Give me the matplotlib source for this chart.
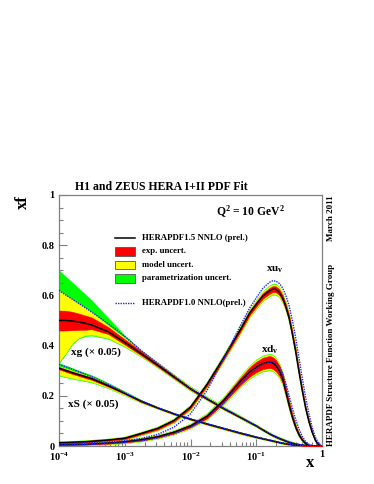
import numpy as np
import matplotlib
matplotlib.use("Agg")
import matplotlib.pyplot as plt
from matplotlib.patches import Rectangle
from matplotlib.lines import Line2D
from matplotlib.ticker import FixedLocator, NullFormatter, MultipleLocator

plt.rcParams['font.family'] = ['Liberation Serif', 'DejaVu Serif']
plt.rcParams['font.weight'] = 'bold'
plt.rcParams['mathtext.fontset'] = 'custom'
plt.rcParams['mathtext.rm'] = 'Liberation Serif:bold'
plt.rcParams['mathtext.bf'] = 'Liberation Serif:bold'
plt.rcParams['mathtext.it'] = 'Liberation Serif:bold'

# ---------------- data ----------------
log_x = [-4, -3.9, -3.8, -3.7, -3.6, -3.5, -3.25, -3.0, -2.75, -2.5, -2.25, -2.0,
         -1.75, -1.5, -1.25, -1.1, -1.0, -0.9, -0.8, -0.75, -0.7, -0.65, -0.6, -0.55,
         -0.5, -0.45, -0.4, -0.35, -0.3, -0.25, -0.2, -0.15, -0.1, -0.05, 0.0]

# HERAPDF1.5 NNLO central values
xuv = [0.013, 0.014, 0.015, 0.016, 0.017, 0.019, 0.024, 0.031, 0.050, 0.070, 0.102, 0.155,
       0.245, 0.350, 0.460, 0.530, 0.565, 0.598, 0.618, 0.625, 0.624, 0.613, 0.590, 0.555,
       0.510, 0.445, 0.375, 0.295, 0.220, 0.152, 0.098, 0.055, 0.022, 0.004, 0.0]
xdv = [0.005, 0.0055, 0.006, 0.0065, 0.007, 0.0085, 0.012, 0.017, 0.025, 0.037, 0.055, 0.080,
       0.118, 0.180, 0.255, 0.295, 0.315, 0.329, 0.335, 0.331, 0.320, 0.300, 0.270, 0.217,
       0.163, 0.115, 0.075, 0.045, 0.024, 0.010, 0.003, 0.001, 0.0, 0.0, 0.0]
xg = [0.500, 0.500, 0.498, 0.494, 0.489, 0.482, 0.455, 0.413, 0.368, 0.322, 0.275, 0.228,
      0.188, 0.150, 0.115, 0.094, 0.080, 0.064, 0.049, 0.042, 0.036, 0.030, 0.025, 0.020,
      0.015, 0.011, 0.008, 0.005, 0.003, 0.002, 0.001, 0.0, 0.0, 0.0, 0.0]
xS = [0.310, 0.301, 0.292, 0.284, 0.276, 0.268, 0.240, 0.210, 0.178, 0.152, 0.128, 0.107,
      0.088, 0.070, 0.052, 0.042, 0.035, 0.029, 0.023, 0.020, 0.017, 0.014, 0.011, 0.009,
      0.007, 0.005, 0.004, 0.003, 0.002, 0.001, 0.001, 0.0, 0.0, 0.0, 0.0]

# valence uncertainties: symmetric half-widths (exp / exp+model / total)
xuv_exp = [0.003, 0.003, 0.003, 0.003, 0.003, 0.003, 0.003, 0.004, 0.004, 0.005, 0.005, 0.006,
           0.007, 0.008, 0.009, 0.0095, 0.010, 0.011, 0.012, 0.012, 0.012, 0.012, 0.012, 0.0115,
           0.011, 0.0105, 0.010, 0.009, 0.008, 0.007, 0.006, 0.0045, 0.003, 0.001, 0.0]
xuv_mod = [0.005, 0.005, 0.005, 0.005, 0.005, 0.005, 0.005, 0.006, 0.006, 0.007, 0.008, 0.009,
           0.010, 0.012, 0.014, 0.015, 0.016, 0.018, 0.019, 0.019, 0.019, 0.0185, 0.018, 0.017,
           0.016, 0.0145, 0.013, 0.0115, 0.010, 0.0085, 0.007, 0.0055, 0.004, 0.002, 0.0]
xuv_par = [0.006, 0.006, 0.006, 0.006, 0.006, 0.006, 0.006, 0.007, 0.007, 0.008, 0.009, 0.010,
           0.012, 0.014, 0.016, 0.017, 0.018, 0.020, 0.022, 0.022, 0.022, 0.021, 0.020, 0.019,
           0.018, 0.016, 0.015, 0.013, 0.011, 0.0095, 0.008, 0.006, 0.004, 0.002, 0.0]
xdv_exp = [0.002, 0.002, 0.002, 0.002, 0.002, 0.002, 0.003, 0.003, 0.004, 0.004, 0.005, 0.006,
           0.008, 0.010, 0.015, 0.019, 0.021, 0.023, 0.024, 0.024, 0.023, 0.021, 0.019, 0.017,
           0.014, 0.011, 0.008, 0.006, 0.004, 0.003, 0.002, 0.001, 0.0, 0.0, 0.0]
xdv_mod = [0.004, 0.004, 0.004, 0.004, 0.004, 0.004, 0.005, 0.005, 0.006, 0.007, 0.008, 0.009,
           0.011, 0.014, 0.020, 0.025, 0.027, 0.029, 0.030, 0.030, 0.029, 0.027, 0.025, 0.022,
           0.018, 0.014, 0.011, 0.008, 0.006, 0.004, 0.003, 0.001, 0.001, 0.0, 0.0]
xdv_par = [0.005, 0.005, 0.005, 0.005, 0.005, 0.005, 0.006, 0.006, 0.007, 0.008, 0.009, 0.010,
           0.013, 0.016, 0.022, 0.027, 0.030, 0.032, 0.033, 0.033, 0.032, 0.030, 0.027, 0.024,
           0.020, 0.016, 0.012, 0.009, 0.007, 0.005, 0.003, 0.002, 0.001, 0.0, 0.0]

# gluon uncertainties: offsets below (dn) / above (up) the central value
xg_exp_dn = [0.040, 0.040, 0.037, 0.032, 0.026, 0.017, 0.009, 0.009, 0.007, 0.006, 0.005, 0.004,
             0.003, 0.003, 0.002, 0.002, 0.002, 0.002, 0.002, 0.002, 0.002, 0.002, 0.002, 0.002,
             0.002, 0.002, 0.002, 0.001, 0.001, 0.001, 0.001, 0.0, 0.0, 0.0, 0.0]
xg_exp_up = [0.040, 0.039, 0.037, 0.034, 0.031, 0.030, 0.019, 0.012, 0.010, 0.007, 0.005, 0.004,
             0.003, 0.003, 0.002, 0.002, 0.002, 0.002, 0.002, 0.002, 0.002, 0.002, 0.002, 0.002,
             0.002, 0.002, 0.002, 0.001, 0.001, 0.001, 0.001, 0.0, 0.0, 0.0, 0.0]
xg_mod_dn = [0.165, 0.130, 0.088, 0.062, 0.047, 0.038, 0.025, 0.015, 0.010, 0.008, 0.007, 0.006,
             0.005, 0.004, 0.004, 0.004, 0.003, 0.003, 0.003, 0.003, 0.003, 0.003, 0.003, 0.003,
             0.003, 0.003, 0.003, 0.002, 0.002, 0.002, 0.001, 0.0, 0.0, 0.0, 0.0]
xg_mod_up = [0.120, 0.102, 0.087, 0.074, 0.062, 0.051, 0.025, 0.017, 0.010, 0.009, 0.009, 0.008,
             0.007, 0.006, 0.005, 0.005, 0.005, 0.005, 0.005, 0.005, 0.005, 0.005, 0.005, 0.005,
             0.005, 0.005, 0.004, 0.004, 0.003, 0.002, 0.002, 0.001, 0.0, 0.0, 0.0]
xg_par_dn = [0.170, 0.135, 0.093, 0.066, 0.051, 0.042, 0.028, 0.018, 0.012, 0.010, 0.009, 0.008,
             0.006, 0.005, 0.005, 0.005, 0.004, 0.004, 0.004, 0.004, 0.004, 0.004, 0.004, 0.004,
             0.004, 0.004, 0.004, 0.003, 0.003, 0.002, 0.001, 0.0, 0.0, 0.0, 0.0]
xg_par_up = [0.200, 0.176, 0.154, 0.134, 0.115, 0.098, 0.055, 0.027, 0.014, 0.011, 0.010, 0.010,
             0.009, 0.008, 0.007, 0.006, 0.006, 0.006, 0.006, 0.006, 0.006, 0.006, 0.006, 0.006,
             0.006, 0.006, 0.005, 0.005, 0.004, 0.003, 0.002, 0.001, 0.0, 0.0, 0.0]

# sea uncertainties: offsets below (dn) / above (up) the central value
xS_exp_dn = [0.005, 0.005, 0.005, 0.005, 0.005, 0.005, 0.004, 0.003, 0.003, 0.002, 0.002, 0.002,
             0.002, 0.002, 0.002, 0.002, 0.001, 0.001, 0.001, 0.001, 0.001, 0.001, 0.001, 0.001,
             0.001, 0.001, 0.001, 0.001, 0.001, 0.0, 0.0, 0.0, 0.0, 0.0, 0.0]
xS_exp_up = [0.005, 0.005, 0.005, 0.005, 0.005, 0.005, 0.004, 0.003, 0.003, 0.002, 0.002, 0.002,
             0.002, 0.002, 0.002, 0.002, 0.001, 0.001, 0.001, 0.001, 0.001, 0.001, 0.001, 0.001,
             0.001, 0.001, 0.001, 0.001, 0.001, 0.0, 0.0, 0.0, 0.0, 0.0, 0.0]
xS_mod_dn = [0.027, 0.024, 0.021, 0.018, 0.015, 0.012, 0.008, 0.006, 0.005, 0.003, 0.003, 0.003,
             0.003, 0.003, 0.003, 0.003, 0.002, 0.002, 0.002, 0.002, 0.002, 0.002, 0.002, 0.002,
             0.002, 0.002, 0.002, 0.002, 0.001, 0.001, 0.001, 0.0, 0.0, 0.0, 0.0]
xS_mod_up = [0.008, 0.008, 0.008, 0.007, 0.007, 0.007, 0.006, 0.005, 0.004, 0.003, 0.003, 0.003,
             0.003, 0.003, 0.003, 0.003, 0.003, 0.003, 0.003, 0.003, 0.003, 0.003, 0.003, 0.003,
             0.003, 0.003, 0.002, 0.002, 0.002, 0.001, 0.001, 0.0, 0.0, 0.0, 0.0]
xS_par_dn = [0.030, 0.027, 0.024, 0.021, 0.018, 0.015, 0.010, 0.008, 0.006, 0.004, 0.004, 0.004,
             0.004, 0.004, 0.004, 0.004, 0.003, 0.003, 0.003, 0.003, 0.003, 0.003, 0.003, 0.003,
             0.003, 0.003, 0.003, 0.002, 0.002, 0.001, 0.001, 0.0, 0.0, 0.0, 0.0]
xS_par_up = [0.020, 0.020, 0.019, 0.017, 0.015, 0.014, 0.011, 0.008, 0.006, 0.004, 0.004, 0.004,
             0.004, 0.004, 0.004, 0.004, 0.004, 0.004, 0.004, 0.004, 0.004, 0.004, 0.004, 0.004,
             0.004, 0.003, 0.003, 0.003, 0.002, 0.002, 0.001, 0.0, 0.0, 0.0, 0.0]

# HERAPDF1.0 NNLO (prel.) central values
xuv_10 = [0.008, 0.009, 0.010, 0.011, 0.012, 0.013, 0.016, 0.021, 0.030, 0.046, 0.075, 0.128,
          0.220, 0.345, 0.475, 0.550, 0.590, 0.628, 0.652, 0.658, 0.657, 0.648, 0.630, 0.600,
          0.558, 0.500, 0.430, 0.350, 0.270, 0.195, 0.130, 0.075, 0.035, 0.010, 0.0]
xdv_10 = [0.004, 0.0045, 0.005, 0.0055, 0.006, 0.007, 0.010, 0.014, 0.021, 0.032, 0.049, 0.075,
          0.110, 0.170, 0.245, 0.285, 0.305, 0.325, 0.335, 0.336, 0.332, 0.318, 0.290, 0.250,
          0.200, 0.150, 0.105, 0.068, 0.038, 0.018, 0.007, 0.002, 0.0, 0.0, 0.0]
xg_10 = [0.620, 0.602, 0.585, 0.568, 0.551, 0.533, 0.487, 0.437, 0.380, 0.330, 0.280, 0.230,
         0.190, 0.151, 0.116, 0.095, 0.081, 0.065, 0.050, 0.043, 0.037, 0.031, 0.026, 0.021,
         0.016, 0.012, 0.009, 0.006, 0.004, 0.002, 0.001, 0.0, 0.0, 0.0, 0.0]
xS_10 = [0.325, 0.316, 0.306, 0.296, 0.286, 0.276, 0.246, 0.213, 0.180, 0.153, 0.129, 0.108,
         0.089, 0.071, 0.053, 0.043, 0.036, 0.030, 0.024, 0.021, 0.018, 0.015, 0.012, 0.010,
         0.008, 0.006, 0.004, 0.003, 0.002, 0.001, 0.001, 0.0, 0.0, 0.0, 0.0]

y_ticks = [0, 0.2, 0.4, 0.6, 0.8, 1]
y_tick_labels = ['0', '0.2', '0.4', '0.6', '0.8', '1']
x_ticks = [1e-4, 1e-3, 1e-2, 1e-1, 1]
x_tick_labels = [r'$10^{-4}$', r'$10^{-3}$', r'$10^{-2}$', r'$10^{-1}$', '1']

legend_labels = ['HERAPDF1.5 NNLO (prel.)', 'exp. uncert.', 'model uncert.',
                 'parametrization uncert.', 'HERAPDF1.0 NNLO(prel.)']

# ---------------- figure ----------------
W, H = 374, 484
fig = plt.figure(figsize=(W / 100, H / 100), dpi=100)
AX_L, AX_R, AX_T, AX_B = 59, 322, 195, 446
ax = fig.add_axes([AX_L / W, 1 - AX_B / H, (AX_R - AX_L) / W, (AX_B - AX_T) / H])

x = 10 ** np.array(log_x)

RED, YEL, GRN = '#ff0000', '#ffff00', '#00ff00'
BLUE = '#2020ff'


def band(lo, hi, color, z):
    ax.fill_between(x, np.maximum(lo, 0), hi, color=color, lw=0.3, edgecolor=color, zorder=z)


# valence bands (symmetric)
for c, e, m, p in [(xuv, xuv_exp, xuv_mod, xuv_par), (xdv, xdv_exp, xdv_mod, xdv_par)]:
    c, e, m, p = map(np.array, (c, e, m, p))
    band(c - p, c + p, GRN, 1)
    band(c - m, c + m, YEL, 2)
    band(c - e, c + e, RED, 3)

# gluon & sea bands (asymmetric)
for c, pd, pu, md, mu, ed, eu in [
        (xg, xg_par_dn, xg_par_up, xg_mod_dn, xg_mod_up, xg_exp_dn, xg_exp_up),
        (xS, xS_par_dn, xS_par_up, xS_mod_dn, xS_mod_up, xS_exp_dn, xS_exp_up)]:
    c, pd, pu, md, mu, ed, eu = map(np.array, (c, pd, pu, md, mu, ed, eu))
    band(c - pd, c + pu, GRN, 1)
    band(c - md, c + mu, YEL, 2)
    band(c - ed, c + eu, RED, 3)

for c in (xuv, xdv, xg, xS):
    ax.plot(x, c, color='black', lw=1.1, zorder=5)
for c in (xuv_10, xdv_10, xg_10, xS_10):
    ax.plot(x, c, color=BLUE, lw=1.0, ls=(0, (1, 0.8)), zorder=6)

ax.set_xscale('log')
ax.set_xlim(1e-4, 1)
ax.set_ylim(0, 1)

ax.set_xticks(x_ticks)
ax.set_xticklabels(x_tick_labels)
minors = [m * 10.0 ** d for d in range(-4, 0) for m in range(2, 10)]
ax.xaxis.set_minor_locator(FixedLocator(minors))
ax.xaxis.set_minor_formatter(NullFormatter())
ax.set_yticks(y_ticks)
ax.set_yticklabels(y_tick_labels)
ax.yaxis.set_minor_locator(MultipleLocator(0.05))

GRAY = '#808080'
ax.tick_params(axis='both', which='both', direction='in', colors=GRAY,
               labelcolor='black', labelsize=7.5, width=0.8)
ax.tick_params(axis='x', which='major', length=5, pad=3)
ax.tick_params(axis='x', which='minor', length=2.8)
ax.tick_params(axis='y', which='major', length=5.5, pad=3)
ax.tick_params(axis='y', which='minor', length=3)
ax.tick_params(top=False, right=False, which='both')
for lab in ax.get_xticklabels() + ax.get_yticklabels():
    lab.set_fontweight('bold')
for s in ax.spines.values():
    s.set_color(GRAY)
    s.set_linewidth(0.9)


def fpos(px, py):
    return px / W, 1 - py / H


def apos(px, py):
    return (px - AX_L) / (AX_R - AX_L), (AX_B - py) / (AX_B - AX_T)


# texts
fig.text(*fpos(161, 187), 'H1 and ZEUS HERA I+II PDF Fit', ha='center', va='center',
         fontsize=8.5, fontweight='bold')
fig.text(*fpos(23, 202), 'xf', ha='center', va='center', rotation=90, fontsize=12,
         fontweight='bold')
fig.text(*fpos(310, 463), 'x', ha='center', va='center', fontsize=12, fontweight='bold')
fig.text(*fpos(331, 195), 'March 2011', ha='center', va='top', rotation=90, fontsize=6.5,
         fontweight='bold')
fig.text(*fpos(331, 446), 'HERAPDF Structure Function Working Group', ha='center',
         va='bottom', rotation=90, fontsize=6.5, fontweight='bold')
fig.text(*fpos(250, 212), r'Q$^2$ = 10 GeV$^2$', ha='center', va='center', fontsize=8.4,
         fontweight='bold')

fig.text(*fpos(275, 270), r'xu$_{\rm v}$', ha='center', va='center', fontsize=8,
         fontweight='bold')
fig.text(*fpos(270, 350), r'xd$_{\rm v}$', ha='center', va='center', fontsize=8,
         fontweight='bold')
fig.text(*fpos(71, 352), 'xg (× 0.05)', ha='left', va='center', fontsize=8,
         fontweight='bold')
fig.text(*fpos(68, 404), 'xS (× 0.05)', ha='left', va='center', fontsize=8,
         fontweight='bold')

# legend
ys = [238, 251.5, 265, 278.5, 303]
x0, x1, tx = 115, 135, 142
ax.add_line(Line2D([apos(x0, 0)[0], apos(x1, 0)[0]], [apos(0, ys[0])[1]] * 2,
                   transform=ax.transAxes, color='black', lw=1.1, zorder=7))
for yy, col in zip(ys[1:4], [RED, YEL, GRN]):
    ax0, ay0 = apos(x0, yy + 4.3)
    ax1, ay1 = apos(x1, yy - 4.3)
    ax.add_patch(Rectangle((ax0, ay0), ax1 - ax0, ay1 - ay0, transform=ax.transAxes,
                           facecolor=col, edgecolor='#555555', lw=0.6, zorder=7))
ax.add_line(Line2D([apos(x0, 0)[0], apos(x1, 0)[0]], [apos(0, ys[4])[1]] * 2,
                   transform=ax.transAxes, color=BLUE, lw=1.0, ls=(0, (1, 0.8)), zorder=7))
for yy, lab in zip(ys, legend_labels):
    fig.text(*fpos(tx, yy), lab, ha='left', va='center', fontsize=6.3, fontweight='bold')

fig.savefig('out.png', dpi=100)
